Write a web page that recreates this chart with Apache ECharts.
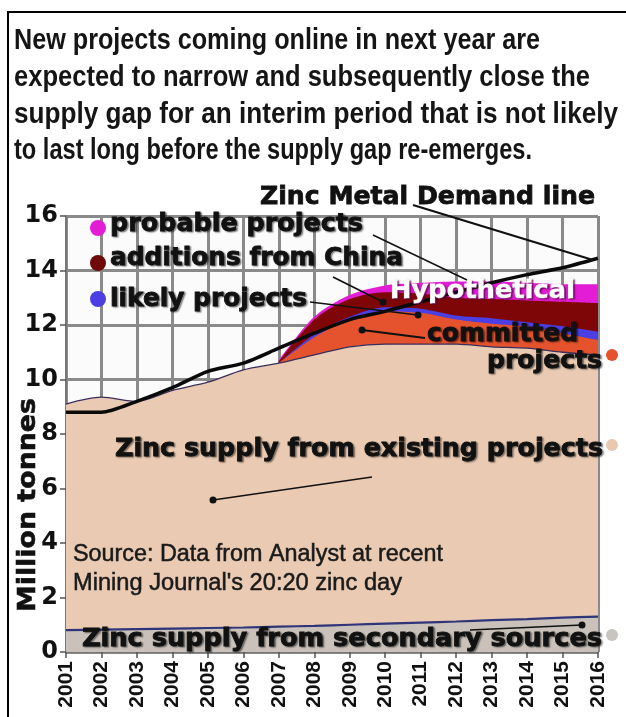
<!DOCTYPE html>
<html><head><meta charset="utf-8">
<script src="https://cdn.jsdelivr.net/npm/echarts@6/dist/echarts.min.js"></script>
<style>html,body{margin:0;padding:0;background:#fff}#c{width:626px;height:717px}</style>
</head><body><div id="c"></div>
<script>
// ---- data (million tonnes, top of each band) ----
const years = ['2001','2002','2003','2004','2005','2006','2007','2008','2009','2010','2011','2012','2013','2014','2015','2016'];
const yTickStep = 2;
const yMax = 16;
const secondarySources = [0.8,0.82,0.84,0.86,0.88,0.9,0.93,0.96,1.0,1.04,1.08,1.12,1.17,1.21,1.26,1.3];
const existingProjects = [9.1,9.35,9.2,9.6,9.9,10.35,10.6,10.9,11.2,11.3,11.3,11.3,11.2,11.15,11.0,10.9];
const committedProjects = [null,null,null,null,null,null,10.6,11.55,12.2,12.5,12.45,12.2,12.05,11.95,11.7,11.45];
const likelyProjects = [null,null,null,null,null,null,10.6,11.65,12.3,12.65,12.6,12.35,12.25,12.1,11.95,11.75];
const chinaAdditions = [null,null,null,null,null,null,10.65,12.2,12.95,13.2,13.15,13.0,12.95,12.9,12.85,12.8];
const probableProjects = [null,null,null,null,null,null,10.7,12.3,13.1,13.45,13.55,13.6,13.6,13.55,13.5,13.5];
const demandLine = [8.8,8.8,9.2,9.7,10.3,10.6,11.15,11.7,12.2,12.5,12.85,13.2,13.55,13.85,14.1,14.45];

const titleLines = [
  'New projects coming online in next year are',
  'expected to narrow and subsequently close the',
  'supply gap for an interim period that is not likely',
  'to last long before the supply gap re-emerges.'
];

// ---- helpers ----
const mctx = document.createElement('canvas').getContext('2d');
function label(text, x, baseline, width, size, o) {
  o = o || {};
  const fam = o.family || 'DejaVu Sans';
  const weight = o.weight || 'bold';
  mctx.font = weight + ' ' + size + 'px "' + fam + '"';
  const w = mctx.measureText(text).width;
  const el = {
    type: 'text', x: x, y: baseline - 0.35 * size, scaleX: width / w, z: 100,
    style: {
      text: text, fontSize: size, fontFamily: fam, fontWeight: weight,
      fill: o.fill || '#111', align: 'left', verticalAlign: 'middle'
    }
  };
  if (o.stroke) { el.style.stroke = o.stroke; el.style.lineWidth = o.sw || 0.7; }
  if (o.shadow) {
    el.style.textShadowColor = o.shadow;
    el.style.textShadowBlur = o.blur || 0;
    el.style.textShadowOffsetX = o.ox || 1;
    el.style.textShadowOffsetY = o.oy || 1;
  }
  return el;
}
function seg(x1, y1, x2, y2, w) {
  return {type:'line', z:100, shape:{x1:x1,y1:y1,x2:x2,y2:y2}, style:{stroke:'#111', lineWidth:w||1.6}};
}
function dot(cx, cy, r, color) {
  return {type:'circle', z:100, shape:{cx:cx,cy:cy,r:r}, style:{fill:color}};
}

const C = {
  tan:'#EACAB3', gray:'#C9C1BA', orange:'#E4532D', blue:'#4B3FE3', darkred:'#7E0606', magenta:'#E21DD5'
};

function band(name, data, color, line) {
  return {
    name: name, type: 'line', data: data, smooth: 0.3, showSymbol: false, symbol: 'none',
    connectNulls: false,
    lineStyle: line || {width: 0, color: color},
    areaStyle: {color: color, opacity: 1, origin: 'start'},
    emphasis: {disabled: true}
  };
}

const titleEls = [];
const titleRight = [540, 590, 618, 532];
const titleBase = [51, 88, 125, 161];
titleLines.forEach((t, i) => {
  titleEls.push(label(t, 14, titleBase[i], titleRight[i] - 14, 29, {family:'Liberation Sans', weight:'bold', fill:'#151515'}));
});

const sh = {shadow:'rgba(0,0,0,0.45)', blur:1.5, ox:1.5, oy:1.5, stroke:'#111', sw:0.8};
function L(text, x, b, w, extra) { return label(text, x, b, w, 25, Object.assign({}, sh, extra || {})); }

const graphics = [
  {type:'polyline', z:100, shape:{points:[[8,730],[8,12],[640,12]]}, style:{stroke:'#000', lineWidth:2, fill:null}},
  ...titleEls,
  // y-axis name
  (function(){
    const e = label('Million tonnes', 0, 0, 214, 25, {stroke:'#111', sw:0.6});
    e.x = 28; e.y = 505; e.rotation = Math.PI/2;
    e.style.align = 'center';
    return e;
  })(),
  L('Zinc Metal Demand line', 260, 206, 335, {shadow:'#8b1a1a', blur:0, ox:1.8, oy:1.8}),
  L('probable projects', 110, 233, 253),
  L('additions from China', 110, 267, 293),
  L('likely projects', 110, 308, 197),
  L('Hypothetical', 390, 300, 185, {fill:'#ffffff', stroke:'#ffffff', shadow:'rgba(90,0,70,0.7)'}),
  L('committed', 427, 343, 151),
  L('projects', 487, 370, 115),
  L('Zinc supply from existing projects', 115, 458, 488),
  label('Source: Data from Analyst at recent', 73, 563, 370, 23, {family:'Liberation Sans', weight:'normal', fill:'#1a1a1a', stroke:'#1a1a1a', sw:0.5}),
  label("Mining Journal's 20:20 zinc day", 73, 592, 329, 23, {family:'Liberation Sans', weight:'normal', fill:'#1a1a1a', stroke:'#1a1a1a', sw:0.5}),
  L('Zinc supply from secondary sources', 82, 648, 520),
  // pointer lines
  seg(413, 205, 593, 260, 2.2),
  seg(373, 235, 467, 280, 1.4),
  seg(333, 277, 383, 302, 1.6), dot(383, 302, 3.5, '#111'),
  seg(310, 302, 418, 315, 1.6), dot(418, 315, 3.5, '#111'),
  seg(362, 330, 425, 338, 2), dot(362, 330, 3.5, '#111'),
  seg(213, 500, 372, 477, 1.6), dot(213, 500, 3.5, '#111'),
  seg(470, 630, 582, 625, 1.6), dot(582, 625, 3.5, '#111'),
  // legend dots
  dot(98, 228, 8, C.magenta),
  dot(98, 263, 8, '#6E0A0A'),
  dot(98, 299, 8, C.blue),
  dot(612, 355, 6, C.orange),
  dot(612, 445, 6, '#EAC7B0'),
  dot(612, 635, 6, '#C8C4C0')
];

const chart = echarts.init(document.getElementById('c'), null, {renderer:'canvas'});
chart.setOption({
  animation: false,
  backgroundColor: '#ffffff',
  grid: {left: 66, right: 28, top: 216, bottom: 65, show: true, backgroundColor: '#fbfbfb', borderWidth: 0},
  xAxis: {
    type: 'category', data: years, boundaryGap: false,
    axisLine: {show: true, lineStyle: {color: '#777', width: 2}},
    axisTick: {show: true, length: 6, lineStyle: {color: '#555', width: 1.5}},
    axisLabel: {rotate: 90, fontFamily: 'Liberation Sans', fontWeight: 'bold', fontSize: 21, color: '#111', margin: 9, interval: 0},
    splitLine: {show: true, interval: 0, lineStyle: {color: '#8a8a8a', width: 3}}
  },
  yAxis: {
    type: 'value', min: 0, max: yMax, interval: yTickStep,
    axisLine: {show: true, lineStyle: {color: '#777', width: 2}},
    axisTick: {show: true, length: 6, lineStyle: {color: '#555', width: 1.5}},
    axisLabel: {fontFamily: 'DejaVu Sans', fontWeight: 'bold', fontSize: 24, color: '#111', margin: 8},
    splitLine: {show: true, lineStyle: {color: '#8a8a8a', width: 3}}
  },
  series: [
    band('probable projects', probableProjects, C.magenta),
    band('additions from China', chinaAdditions, C.darkred),
    band('likely projects', likelyProjects, C.blue),
    band('committed projects', committedProjects, C.orange),
    band('existing projects', existingProjects, C.tan, {width: 1.3, color: '#3b2d5a'}),
    band('secondary sources', secondarySources, C.gray, {width: 2.2, color: '#2f3578'}),
    {
      name: 'Zinc Metal Demand line', type: 'line', data: demandLine, smooth: 0.25,
      showSymbol: false, symbol: 'none', z: 5,
      lineStyle: {color: '#0a0a0a', width: 3.5}, emphasis: {disabled: true}
    }
  ],
  graphic: graphics
});
</script>
</body></html>
